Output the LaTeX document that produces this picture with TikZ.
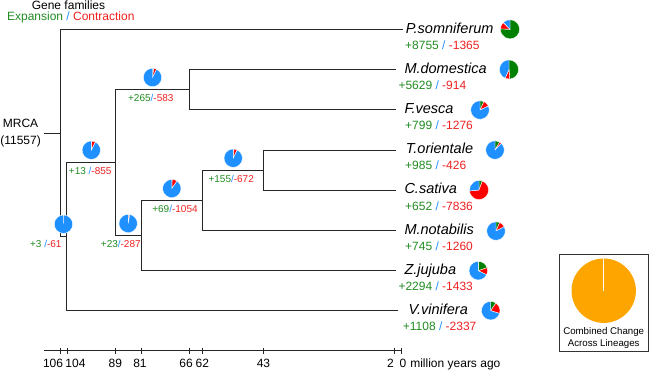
\documentclass[tikz,border=0pt]{standalone}
\usepackage{fontspec}
\setmainfont{Liberation Sans}
\usepackage{tikz}
\usetikzlibrary{positioning,calc}

\definecolor{famgain}{RGB}{34,139,34}
\definecolor{famloss}{RGB}{238,32,32}
\definecolor{famsep}{RGB}{30,144,255}
\definecolor{piegain}{RGB}{0,128,0}
\definecolor{pieloss}{RGB}{255,0,0}
\definecolor{piestay}{RGB}{30,144,255}
\definecolor{pieall}{RGB}{255,165,0}

% +expansion / -contraction in the three colours
\newcommand{\famchange}[3]{\textcolor{famgain}{+#1}\textcolor{famsep}{\relax#2}\textcolor{famloss}{-#3}}
% pie: centre, radius, expanded, contracted (out of 11557 families)
\newcommand{\genepie}[4]{%
  \pgfmathsetmacro{\pieA}{90-(360/11557)*#3}%
  \pgfmathsetmacro{\pieB}{\pieA-(360/11557)*#4}%
  \filldraw[pieslice, fill=piegain] (#1) -- ++(90:#2) arc[start angle=90, end angle=\pieA, radius=#2] -- cycle;
  \filldraw[pieslice, fill=pieloss] (#1) -- ++(\pieA:#2) arc[start angle=\pieA, end angle=\pieB, radius=#2] -- cycle;
  \filldraw[pieslice, fill=piestay] (#1) -- ++(\pieB:#2) arc[start angle=\pieB, end angle=-270, radius=#2] -- cycle;
}

\begin{document}
\begin{tikzpicture}[x=1pt, y=-1pt,
    branch/.style={draw=black!85, line width=0.8pt},
    axisline/.style={draw=black!85, line width=0.7pt},
    taxonname/.style={anchor=west, inner sep=0pt, font=\fontsize{14.5}{16}\selectfont\itshape, text height=10.4pt, text depth=3pt},
    tipcount/.style={anchor=west, inner sep=0pt, font=\fontsize{12}{14}\selectfont, text height=8.6pt, text depth=2.5pt},
    nodecount/.style={inner sep=0pt, font=\fontsize{10}{12}\selectfont, text height=7.2pt, text depth=2.1pt},
    agelabel/.style={inner sep=0pt, font=\fontsize{12}{14}\selectfont, text height=8.6pt, text depth=2.5pt},
    pieslice/.style={draw=white, line width=0.4pt}]

    \useasboundingbox (0,0) rectangle (649,370);

    % Legend: gene families
    \node[font=\fontsize{12}{14}\selectfont, inner sep=0pt] (famtitle) at (68.5,5) {Gene families};
    \node[font=\fontsize{12}{14}\selectfont, inner sep=0pt] (famkey) at (70.8,17) {\textcolor{famgain}{Expansion}\textcolor{famsep}{\relax\ /\ }\textcolor{famloss}{Contraction}};

    % Internal nodes, named by age (My)
    \coordinate (n106) at (60.7,133);
    \coordinate (n104) at (66.7,236.6);
    \coordinate (n89) at (115,162.5);
    \coordinate (n81) at (141.3,235.3);
    \coordinate (n66) at (189.3,89.6);
    \coordinate (n62) at (202.3,200.2);
    \coordinate (n43) at (263.3,170);

    % Tip ends
    \coordinate (psomEnd) at (403,29.3);
    \coordinate (mdomEnd) at (396,69.5);
    \coordinate (fvesEnd) at (396,109.7);
    \coordinate (toriEnd) at (396,149.9);
    \coordinate (csatEnd) at (396,190.1);
    \coordinate (mnotEnd) at (396,230.3);
    \coordinate (zjujEnd) at (396,270.5);
    \coordinate (vvinEnd) at (398,310.7);

    % Root
    \node[align=center, anchor=east, inner sep=0pt, font=\fontsize{12}{16.7}\selectfont] (mrca) at (41,133) {MRCA\\(11557)};
    \draw[branch] ([xshift=3.3pt]mrca.east) -- (n106);

    % Branches
    \draw[branch] (psomEnd) -| (n106);
    \draw[branch] (n104) -| (n106);
    \draw[branch] (n89) -| (n104);
    \draw[branch] (vvinEnd) -| (n104);
    \draw[branch] (n66) -| (n89);
    \draw[branch] (n81) -| (n89);
    \draw[branch] (mdomEnd) -| (n66);
    \draw[branch] (fvesEnd) -| (n66);
    \draw[branch] (n62) -| (n81);
    \draw[branch] (zjujEnd) -| (n81);
    \draw[branch] (n43) -| (n62);
    \draw[branch] (mnotEnd) -| (n62);
    \draw[branch] (toriEnd) -| (n43);
    \draw[branch] (csatEnd) -| (n43);

    % Tips: names, counts, pies
    \node[taxonname] (psom) at (405.7,29.3) {P.somniferum};
    \node[tipcount] (psomCount) at (405,46.3) {\famchange{8755}{ / }{1365}};
    \coordinate (psomPie) at (510,29.3);
    \genepie{psomPie}{9.6pt}{8755}{1365}

    \node[taxonname] (mdom) at (404.3,69.5) {M.domestica};
    \node[tipcount] (mdomCount) at (398.3,86.5) {\famchange{5629}{ / }{914}};
    \coordinate (mdomPie) at (509,69.5);
    \genepie{mdomPie}{9.6pt}{5629}{914}

    \node[taxonname] (fves) at (404.3,109.7) {F.vesca};
    \node[tipcount] (fvesCount) at (405,126.7) {\famchange{799}{ / }{1276}};
    \coordinate (fvesPie) at (480,110);
    \genepie{fvesPie}{9.3pt}{799}{1276}

    \node[taxonname] (tori) at (405.7,149.9) {T.orientale};
    \node[tipcount] (toriCount) at (405,166.9) {\famchange{985}{ / }{426}};
    \coordinate (toriPie) at (495,150);
    \genepie{toriPie}{9.3pt}{985}{426}

    \node[taxonname] (csat) at (404.3,190.1) {C.sativa};
    \node[tipcount] (csatCount) at (405,207.1) {\famchange{652}{ / }{7836}};
    \coordinate (csatPie) at (479,190);
    \genepie{csatPie}{9.6pt}{652}{7836}

    \node[taxonname] (mnot) at (404.3,230.3) {M.notabilis};
    \node[tipcount] (mnotCount) at (405,247.3) {\famchange{745}{ / }{1260}};
    \coordinate (mnotPie) at (496,231);
    \genepie{mnotPie}{9.3pt}{745}{1260}

    \node[taxonname] (zjuj) at (404.3,270.5) {Z.jujuba};
    \node[tipcount] (zjujCount) at (398.3,287.5) {\famchange{2294}{ / }{1433}};
    \coordinate (zjujPie) at (478.3,270.7);
    \genepie{zjujPie}{9.3pt}{2294}{1433}

    \node[taxonname] (vvin) at (408.3,310.7) {V.vinifera};
    \node[tipcount] (vvinCount) at (402.7,327.7) {\famchange{1108}{ / }{2337}};
    \coordinate (vvinPie) at (490.7,310.7);
    \genepie{vvinPie}{9.3pt}{1108}{2337}

    % Branch pies and counts
    \coordinate (b104Pie) at (63.5,224.2);
    \genepie{b104Pie}{9.2pt}{3}{61}
    \node[nodecount] (b104Count) at (45.8,245) {\famchange{3}{ /}{61}};

    \coordinate (b89Pie) at (91.3,150.2);
    \genepie{b89Pie}{9.2pt}{13}{855}
    \node[nodecount] (b89Count) at (90.2,171.7) {\famchange{13}{ /}{855}};

    \coordinate (b66Pie) at (152.5,77.5);
    \genepie{b66Pie}{9.2pt}{265}{583}
    \node[nodecount] (b66Count) at (150.8,99.3) {\famchange{265}{/}{583}};

    \coordinate (b81Pie) at (128.2,223.5);
    \genepie{b81Pie}{9.2pt}{23}{287}
    \node[nodecount] (b81Count) at (120.8,245) {\famchange{23}{/}{287}};

    \coordinate (b62Pie) at (171.8,188.5);
    \genepie{b62Pie}{9.2pt}{69}{1054}
    \node[nodecount] (b62Count) at (175,210) {\famchange{69}{/}{1054}};

    \coordinate (b43Pie) at (233.2,158.2);
    \genepie{b43Pie}{9.2pt}{155}{672}
    \node[nodecount] (b43Count) at (231.2,180) {\famchange{155}{/}{672}};

    % Time axis
    \coordinate (axisL) at (44.3,350.7);
    \coordinate (axisR) at (401,350.7);
    \draw[axisline] (axisL) -- (axisR);
    \foreach \age/\shift in {106/-7.7, 104/8.3, 89/0, 81/-1, 66/-3, 62/0.4, 43/0.5, 2/-4, 0/2} {
        \draw[axisline] ({401-3.21*\age},347.7) -- ++(0,6);
        \node[agelabel] (age\age) at ({401-3.21*\age+\shift},364.3) {\age};
    }
    \node[agelabel, right=3.6pt of age0] (mya) {million years ago};

    % Legend: combined change
    \node[draw=black!80, line width=0.6pt, minimum width=88.6pt, minimum height=96.4pt, inner sep=0pt] (combobox) at (604,302.7) {};
    \coordinate (comboPie) at (603.7,290.7);
    \fill[pieall] (comboPie) circle[radius=32.2pt];
    \draw[white, line width=0.7pt] (comboPie) -- ++(90:32.2pt);
    \node[font=\fontsize{9.7}{12.3}\selectfont, align=center, inner sep=0pt] (combotext) at (603.7,338) {Combined Change\\Across Lineages};
\end{tikzpicture}
\end{document}
